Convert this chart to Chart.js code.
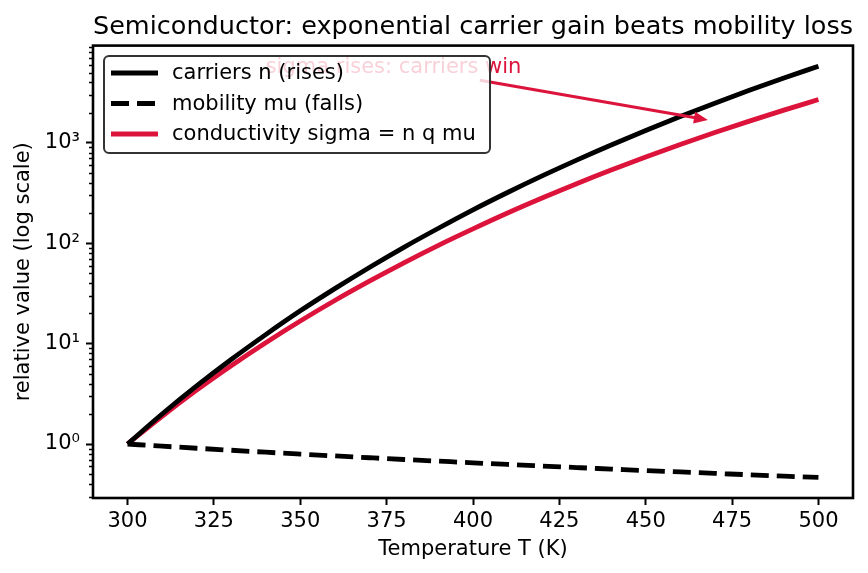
<!DOCTYPE html>
<html>
<head>
<meta charset="utf-8">
<script src="https://cdn.jsdelivr.net/npm/chart.js@4/dist/chart.umd.min.js"></script>
<style>
html, body { margin: 0; padding: 0; background: #fff; }
#wrap { width: 868px; height: 573px; }
</style>
</head>
<body>
<div id="wrap"><canvas id="semiChart" width="868" height="573"></canvas></div>
<script>
// temperature samples (K)
const temps = [300, 310, 320, 330, 340, 350, 360, 370, 380, 390, 400,
               410, 420, 430, 440, 450, 460, 470, 480, 490, 500];
// relative values
const carriers = [1, 1.99, 3.79, 6.95, 12.3, 21.2, 35.3, 57.4, 91.1, 141, 215,
                  320, 468, 673, 952, 1326, 1828, 2482, 3331, 4417, 5803];
const mobility = [1, 0.952, 0.908, 0.867, 0.829, 0.794, 0.761, 0.730, 0.701, 0.675, 0.650,
                  0.626, 0.604, 0.583, 0.563, 0.544, 0.527, 0.510, 0.494, 0.479, 0.465];
const sigma = [1, 1.89, 3.44, 6.02, 10.2, 16.8, 26.9, 41.9, 63.9, 95.4, 139,
               200, 282, 392, 536, 722, 963, 1266, 1646, 2116, 2697];

const seriesLabels = ['carriers n (rises)', 'mobility mu (falls)', 'conductivity sigma = n q mu'];
const xTicks = [300, 325, 350, 375, 400, 425, 450, 475, 500];
const yTicks = [1, 10, 100, 1000];
const yTickLabels = ['10⁰', '10¹', '10²', '10³'];

// annotation (data coords)
const noteText = 'sigma rises: carriers win';
const noteAt = [377, 4950];
const arrowFrom = [402, 4200];
const arrowTo = [468, 1690];

const CRIMSON = '#DC143C';
const LW = 4.8;

Chart.defaults.font.family = 'DejaVu Sans';
Chart.defaults.font.size = 21;
Chart.defaults.color = '#000';

function toPts(ys) {
    return temps.map((t, i) => ({x: t, y: ys[i]}));
}

// frame, minor log ticks, annotation and the boxed legend
const extras = {
    id: 'extras',
    afterDraw(chart) {
        const ctx = chart.ctx;
        const xs = chart.scales.x, ys = chart.scales.y;
        const a = chart.chartArea;

        // minor ticks on the log axis
        ctx.save();
        ctx.strokeStyle = '#000';
        ctx.lineWidth = 1.5;
        for (let d = 0.1; d <= 1000; d *= 10) {
            for (let m = 2; m <= 9; m++) {
                const v = m * d;
                if (v < ys.min || v > ys.max) continue;
                const py = Math.round(ys.getPixelForValue(v)) + 0.5;
                ctx.beginPath();
                ctx.moveTo(a.left - 4, py);
                ctx.lineTo(a.left, py);
                ctx.stroke();
            }
        }
        ctx.restore();

        // frame
        ctx.save();
        ctx.strokeStyle = '#000';
        ctx.lineWidth = 2.6;
        ctx.strokeRect(a.left, a.top, a.right - a.left, a.bottom - a.top);
        ctx.restore();

        // annotation text + arrow
        ctx.save();
        ctx.fillStyle = CRIMSON;
        ctx.strokeStyle = CRIMSON;
        ctx.font = '21px "DejaVu Sans"';
        ctx.textAlign = 'center';
        ctx.textBaseline = 'alphabetic';
        ctx.fillText(noteText, xs.getPixelForValue(noteAt[0]), ys.getPixelForValue(noteAt[1]));
        const x0 = xs.getPixelForValue(arrowFrom[0]), y0 = ys.getPixelForValue(arrowFrom[1]);
        const x1 = xs.getPixelForValue(arrowTo[0]), y1 = ys.getPixelForValue(arrowTo[1]);
        const ang = Math.atan2(y1 - y0, x1 - x0);
        const hl = 14, hw = 6;
        ctx.lineWidth = 3.2;
        ctx.beginPath();
        ctx.moveTo(x0, y0);
        ctx.lineTo(x1 - Math.cos(ang) * hl * 0.8, y1 - Math.sin(ang) * hl * 0.8);
        ctx.stroke();
        ctx.beginPath();
        ctx.moveTo(x1, y1);
        ctx.lineTo(x1 - Math.cos(ang) * hl - Math.sin(ang) * hw, y1 - Math.sin(ang) * hl + Math.cos(ang) * hw);
        ctx.lineTo(x1 - Math.cos(ang) * hl + Math.sin(ang) * hw, y1 - Math.sin(ang) * hl - Math.cos(ang) * hw);
        ctx.closePath();
        ctx.fill();
        ctx.restore();

        // legend box
        const bx = 104, by = 56, bw = 386, bh = 97;
        ctx.save();
        ctx.beginPath();
        ctx.roundRect(bx, by, bw, bh, 5);
        ctx.fillStyle = 'rgba(255,255,255,0.8)';
        ctx.fill();
        ctx.lineWidth = 2;
        ctx.strokeStyle = '#333';
        ctx.stroke();
        ctx.font = '21px "DejaVu Sans"';
        ctx.textAlign = 'left';
        ctx.textBaseline = 'middle';
        chart.data.datasets.forEach((ds, i) => {
            const ry = 73 + i * 30.5;
            ctx.beginPath();
            ctx.strokeStyle = ds.borderColor;
            ctx.lineWidth = ds.borderWidth;
            ctx.setLineDash(ds.borderDash || []);
            ctx.moveTo(111, ry);
            ctx.lineTo(158, ry);
            ctx.stroke();
            ctx.setLineDash([]);
            ctx.fillStyle = '#000';
            ctx.fillText(ds.label, 172, ry + 1);
        });
        ctx.restore();
    }
};

const ctx = document.getElementById('semiChart').getContext('2d');
const semiChart = new Chart(ctx, {
    type: 'line',
    data: {
        datasets: [{
            label: seriesLabels[0],
            data: toPts(carriers),
            borderColor: '#000',
            borderWidth: LW,
            pointRadius: 0,
            cubicInterpolationMode: 'monotone'
        }, {
            label: seriesLabels[1],
            data: toPts(mobility),
            borderColor: '#000',
            borderWidth: LW,
            borderDash: [18, 8],
            pointRadius: 0,
            cubicInterpolationMode: 'monotone'
        }, {
            label: seriesLabels[2],
            data: toPts(sigma),
            borderColor: CRIMSON,
            borderWidth: LW,
            pointRadius: 0,
            cubicInterpolationMode: 'monotone'
        }]
    },
    options: {
        responsive: false,
        animation: false,
        devicePixelRatio: 1,
        layout: { padding: { right: 15 } },
        plugins: {
            legend: { display: false },
            tooltip: { enabled: false },
            title: {
                display: true,
                text: 'Semiconductor: exponential carrier gain beats mobility loss',
                fullSize: false,
                color: '#000',
                font: { size: 25.5, weight: 'normal' },
                padding: { top: 12, bottom: 3 }
            }
        },
        scales: {
            x: {
                type: 'linear',
                min: 290,
                max: 510,
                afterBuildTicks: s => { s.ticks = xTicks.map(v => ({value: v})); },
                afterFit: s => { s.height = 75; },
                grid: { drawOnChartArea: false, drawTicks: true, tickLength: 7, tickWidth: 2, tickColor: '#000' },
                border: { display: false },
                ticks: { padding: 4, maxRotation: 0, color: '#000' },
                title: { display: true, text: 'Temperature T (K)', color: '#000', padding: { top: 0, bottom: 11 } }
            },
            y: {
                type: 'logarithmic',
                min: 0.29,
                max: 9300,
                afterBuildTicks: s => { s.ticks = yTicks.map(v => ({value: v, major: true})); },
                afterFit: s => { s.width = 93; },
                grid: { drawOnChartArea: false, drawTicks: true, tickLength: 7, tickWidth: 2, tickColor: '#000' },
                border: { display: false },
                ticks: {
                    padding: 6,
                    color: '#000',
                    callback: v => { const i = yTicks.indexOf(v); return i >= 0 ? yTickLabels[i] : ''; }
                },
                title: { display: true, text: 'relative value (log scale)', color: '#000', padding: { top: 11, bottom: 0 } }
            }
        }
    },
    plugins: [extras]
});
</script>
</body>
</html>
